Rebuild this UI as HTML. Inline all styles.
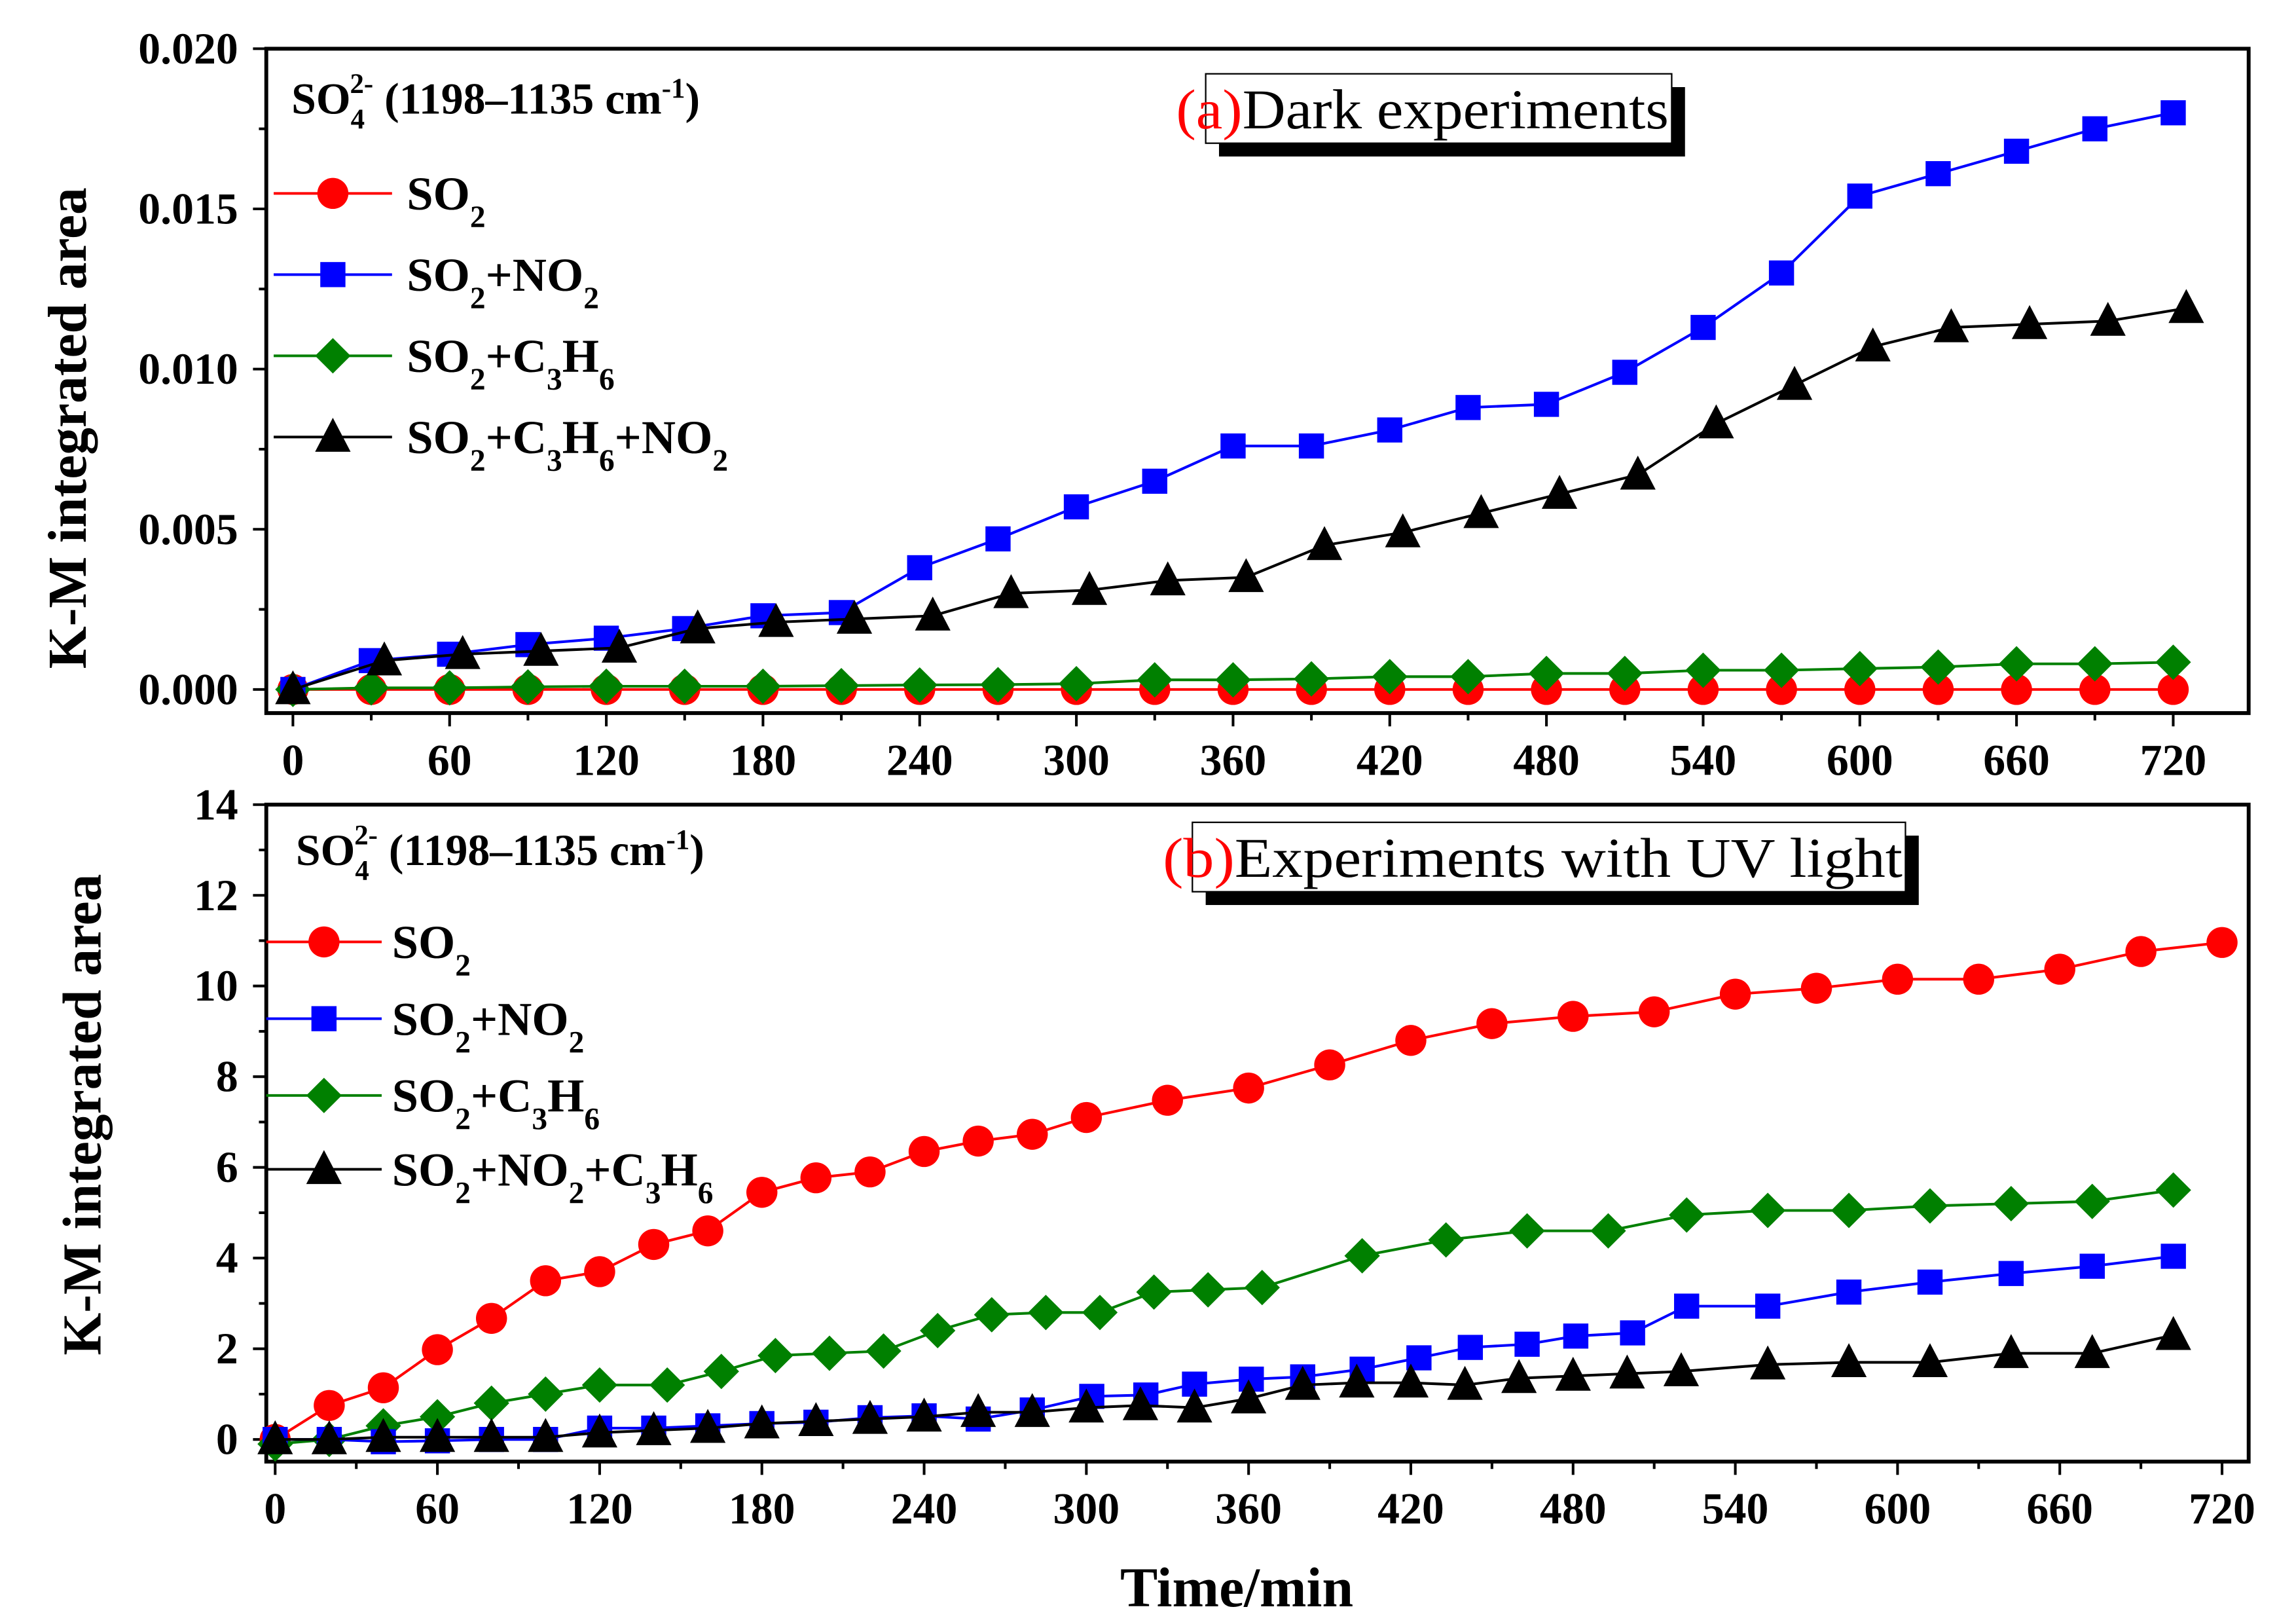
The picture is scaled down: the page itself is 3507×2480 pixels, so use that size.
<!DOCTYPE html>
<html><head><meta charset="utf-8"><style>
html,body{margin:0;padding:0;background:#fff}
svg{display:block}
text{font-family:"Liberation Serif",serif}
</style></head><body>
<svg id="c" width="3507" height="2480" viewBox="0 0 1552 1100" preserveAspectRatio="none" xmlns="http://www.w3.org/2000/svg"></svg>
<script>
// ---- Panel (a) data: dark experiments ----
const aTimes30 = [0,30,60,90,120,150,180,210,240,270,300,330,360,390,420,450,480,510,540,570,600,630,660,690,720];
const aTimesTri = [0,35,65,95,125,155,185,215,245,275,305,335,365,395,425,455,485,515,545,575,605,635,665,695,725];
const aSO2 = [0,0,0,0,0,0,0,0,0,0,0,0,0,0,0,0,0,0,0,0,0,0,0,0,0];
const aSO2NO2 = [0,0.0009,0.0011,0.0014,0.0016,0.0019,0.0023,0.0024,0.0038,0.0047,0.0057,0.0065,0.0076,0.0076,0.0081,0.0088,0.0089,0.0099,0.0113,0.0130,0.0154,0.0161,0.0168,0.0175,0.0180];
const aSO2C3H6 = [0,0.00005,0.00005,0.00008,0.0001,0.0001,0.0001,0.00012,0.00014,0.00015,0.00018,0.0003,0.0003,0.00033,0.0004,0.0004,0.0005,0.0005,0.0006,0.0006,0.00065,0.0007,0.0008,0.0008,0.00085];
const aAll = [0,0.0009,0.0011,0.0012,0.0013,0.0019,0.0021,0.0022,0.0023,0.0030,0.0031,0.0034,0.0035,0.0045,0.0049,0.0055,0.0061,0.0067,0.0083,0.0095,0.0107,0.0113,0.0114,0.0115,0.0119];
const aYTicks = ["0.000","0.005","0.010","0.015","0.020"];
const xTickLabels = ["0","60","120","180","240","300","360","420","480","540","600","660","720"];
// ---- Panel (b) data: UV light ----
const bTimesRed = [0,20,40,60,80,100,120,140,160,180,200,220,240,260,280,300,330,360,390,420,450,480,510,540,570,600,630,660,690,720];
const bSO2 = [0,0.75,1.14,1.98,2.67,3.5,3.7,4.3,4.6,5.45,5.77,5.9,6.35,6.58,6.73,7.1,7.48,7.75,8.26,8.8,9.17,9.33,9.43,9.82,9.95,10.15,10.15,10.37,10.76,10.96];
const bTimesGreen = [0,20,40,60,80,100,120,145,165,185,205,225,245,265,285,305,325,345,365,402,433,463,493,522,552,582,612,642,672,702];
const bSO2C3H6 = [-0.1,0,0.3,0.5,0.8,1.0,1.2,1.2,1.5,1.85,1.9,1.95,2.4,2.75,2.8,2.8,3.25,3.3,3.35,4.05,4.4,4.6,4.6,4.95,5.05,5.05,5.15,5.2,5.25,5.5];
const bTimesBlue = [0,20,40,60,80,100,120,140,160,180,200,220,240,260,280,302,322,340,361,380,402,423,442,463,481,502,522,552,582,612,642,672,702];
const bSO2NO2 = [0,0,-0.05,-0.03,0,0,0.25,0.25,0.3,0.35,0.38,0.48,0.52,0.45,0.65,0.95,0.98,1.22,1.33,1.38,1.55,1.8,2.03,2.1,2.28,2.35,2.94,2.94,3.25,3.47,3.66,3.82,4.04];
const bTimesTri = [0,20,40,60,80,100,120,140,160,180,200,220,240,260,280,300,320,340,360,380,400,420,440,460,480,500,520,552,582,612,642,672,702];
const bAll = [0,0,0.05,0.05,0.05,0.05,0.15,0.2,0.25,0.35,0.4,0.45,0.5,0.6,0.6,0.7,0.75,0.7,0.9,1.2,1.25,1.25,1.2,1.35,1.4,1.45,1.5,1.65,1.7,1.7,1.9,1.9,2.3];
const bYTicks = ["0","2","4","6","8","10","12","14"];

const NS="http://www.w3.org/2000/svg";
const svg=document.getElementById('c');
function el(tag,attrs,parent){const e=document.createElementNS(NS,tag);for(const k in attrs)e.setAttribute(k,attrs[k]);(parent||svg).appendChild(e);return e;}
const COL={red:"#ff0000",blue:"#0000ff",green:"#008000",black:"#000000"};

function marker(g,type,x,y,c){
  let m;
  if(type==='circle') m=el('circle',{cx:x,cy:y,r:10.5,fill:c},g);
  else if(type==='square') m=el('rect',{x:x-8.5,y:y-8.5,width:17,height:17,fill:c},g);
  else if(type==='diamond') m=el('polygon',{points:`${x},${y-12} ${x+12},${y} ${x},${y+12} ${x-12},${y}`,fill:c},g);
  else m=el('polygon',{points:`${x},${y-13} ${x+12},${y+10} ${x-12},${y+10}`,fill:c},g);
  
  
  return m;
}
function series(name,xs,ys,sx,sy,type,c){
  const g=el('g',{});
  
  
  const pts=xs.map((t,i)=>sx(t)+','+sy(ys[i])).join(' ');
  el('polyline',{points:pts,fill:'none',stroke:c,'stroke-width':1.8},g);
  xs.forEach((t,i)=>marker(g,type,sx(t),sy(ys[i]),c));
}
// label parts: array of [text, isSub]
function legendEntry(x1,x2,y,type,c,parts,tx,name){
  const g=el('g',{});
  
  
  el('line',{x1:x1,x2:x2,y1:y,y2:y,stroke:c,'stroke-width':1.8},g);
  marker(g,type,(x1+x2)/2,y,c);
  const t=el('text',{x:tx,y:y+11,'font-size':32,'font-weight':'bold'},g);
  let prevSub=false, html='';
  parts.forEach(p=>{
    const isSub=/^\d$/.test(p);
    let dy=0;
    if(isSub&&!prevSub) dy=12;
    if(!isSub&&prevSub) dy=-12;
    html+=`<tspan dy="${dy}"${isSub?' font-size="21"':''}>${p}</tspan>`;
    prevSub=isSub;
  });
  t.innerHTML=html;
}

function panel(o){
  const g=el('g',{});
  
  
  const sx=t=>o.x0+(t)*(o.x720-o.x0)/720;
  const sy=v=>o.yZero+(v)*(o.yTop-o.yZero)/o.yMax;
  for(let t=0;t<=720;t+=30){const X=sx(t);el('line',{x1:X,x2:X,y1:o.fb,y2:o.fb+(t%60?5:9),stroke:'#000','stroke-width':1.8},g);}
  xTickLabels.forEach((l,i)=>{const tx=el('text',{x:sx(i*60),y:o.fb+42,'font-size':30,'font-weight':'bold','text-anchor':'middle'},g);tx.textContent=l;
    });
  const n=o.yLabels.length-1;
  for(let i=0;i<=2*n;i++){const v=o.yMax*i/(2*n);const Y=sy(v);el('line',{x1:o.fl,x2:o.fl-(i%2?5:9),y1:Y,y2:Y,stroke:'#000','stroke-width':1.8},g);}
  o.yLabels.forEach((l,i)=>{const tx=el('text',{x:o.fl-19,y:sy(o.yMax*i/n)+10,'font-size':30,'font-weight':'bold','text-anchor':'end'},g);tx.textContent=l;
    });
  o.draw(sx,sy);
  el('rect',{x:o.fl,y:o.ft,width:o.fr-o.fl,height:o.fb-o.ft,fill:'none',stroke:'#000','stroke-width':2.6},g);
  const yt=el('text',{x:0,y:0,'font-size':37,'font-weight':'bold','text-anchor':'middle',transform:`translate(${o.ytx},${o.yty}) rotate(-90)`},g);
  yt.textContent='K-M integrated area';
  
  const il=el('text',{x:o.ionX,y:o.ionY,'font-size':30,'font-weight':'bold'},g);
  il.innerHTML='SO<tspan dy="10" font-size="19">4</tspan><tspan dx="-10" dy="-24" font-size="19">2-</tspan><tspan dy="14"> (1198–1135 cm</tspan><tspan dy="-11" font-size="19">-1</tspan><tspan dy="11">)</tspan>';
  
  const b=o.box;
  el('rect',{x:b[0]+9,y:b[1]+9,width:b[2],height:b[3],fill:'#000'},g);
  el('rect',{x:b[0],y:b[1],width:b[2],height:b[3],fill:'#fff',stroke:'#000','stroke-width':1},g);
  const tt=el('text',{x:b[0]-20,y:b[1]+37,'font-size':38,textLength:b[2]+18,lengthAdjust:'spacingAndGlyphs'},g);
  tt.innerHTML=`<tspan fill="#ff0000">(${o.letter})</tspan>${o.title}`;
  
}

panel({name:'panel-a-dark',fl:180,fr:1520,ft:33,fb:483,x0:198,x720:1469,yZero:467,yTop:33,yMax:0.02,yLabels:aYTicks,
  ytx:58,yty:290,ionX:197,ionY:77,box:[815,50,315,47],letter:'a',title:'Dark experiments',
  draw:(sx,sy)=>{
    series('series-so2',aTimes30,aSO2,sx,sy,'circle',COL.red);
    series('series-so2-c3h6',aTimes30,aSO2C3H6,sx,sy,'diamond',COL.green);
    series('series-so2-no2',aTimes30,aSO2NO2,sx,sy,'square',COL.blue);
    series('series-so2-c3h6-no2',aTimesTri,aAll,sx,sy,'triangle',COL.black);
    legendEntry(185,265,131,'circle',COL.red,['SO','2'],275,'legend-so2');
    legendEntry(185,265,186,'square',COL.blue,['SO','2','+NO','2'],275,'legend-so2-no2');
    legendEntry(185,265,241,'diamond',COL.green,['SO','2','+C','3','H','6'],275,'legend-so2-c3h6');
    legendEntry(185,265,296,'triangle',COL.black,['SO','2','+C','3','H','6','+NO','2'],275,'legend-so2-c3h6-no2');
  }});

panel({name:'panel-b-uv',fl:180,fr:1520,ft:545,fb:990,x0:186,x720:1502,yZero:975,yTop:545,yMax:14,yLabels:bYTicks,
  ytx:68,yty:755,ionX:200,ionY:586,box:[806,557,482,47],letter:'b',title:'Experiments with UV light',
  draw:(sx,sy)=>{
    series('series-so2',bTimesRed,bSO2,sx,sy,'circle',COL.red);
    series('series-so2-c3h6',bTimesGreen,bSO2C3H6,sx,sy,'diamond',COL.green);
    series('series-so2-no2',bTimesBlue,bSO2NO2,sx,sy,'square',COL.blue);
    series('series-so2-no2-c3h6',bTimesTri,bAll,sx,sy,'triangle',COL.black);
    legendEntry(180,258,638,'circle',COL.red,['SO','2'],265,'legend-so2');
    legendEntry(180,258,690,'square',COL.blue,['SO','2','+NO','2'],265,'legend-so2-no2');
    legendEntry(180,258,742,'diamond',COL.green,['SO','2','+C','3','H','6'],265,'legend-so2-c3h6');
    legendEntry(180,258,792,'triangle',COL.black,['SO','2','+NO','2','+C','3','H','6'],265,'legend-so2-no2-c3h6');
  }});

const xt=el('text',{x:836,y:1088,'font-size':38,'font-weight':'bold','text-anchor':'middle'});
xt.textContent='Time/min';


</script>
</body></html>
